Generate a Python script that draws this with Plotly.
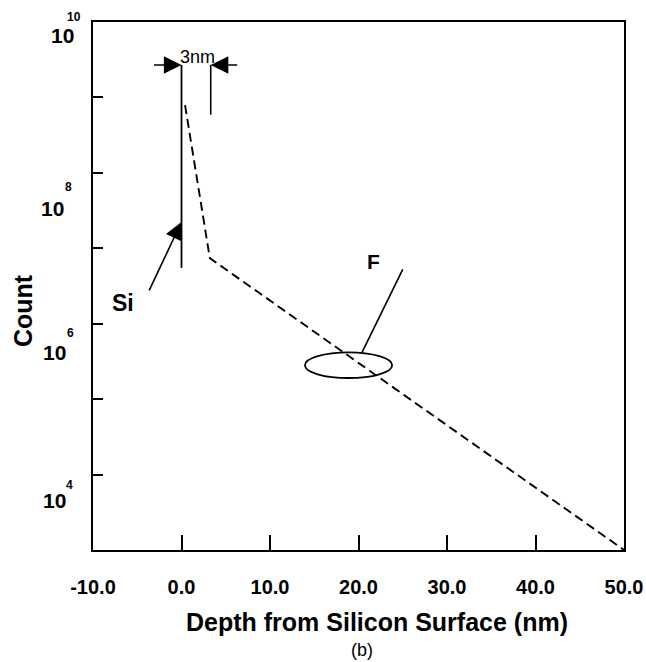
import plotly.graph_objects as go

# Si surface marker and F depth profile (depth in nm, counts)
si_depth = [0.0, 0.0]
si_count = [2.7e9, 5.5e6]

f_depth = [0.4, 3.2, 50.0]
f_count = [7.9e8, 7.4e6, 1.0e3]

# right edge of the 3 nm window
edge_depth = [3.3, 3.3]
edge_count = [2.7e9, 5.9e8]

x_ticks = [-10, 0, 10, 20, 30, 40, 50]
x_tick_text = ["-10.0", "0.0", "10.0", "20.0", "30.0", "40.0", "50.0"]
y_tick_vals = [1e4, 1e5, 1e6, 1e7, 1e8, 1e9]
y_label_exponents = ["10", "8", "6", "4"]

FONT = "Liberation Sans, Arial, sans-serif"
W, H = 646, 662
L, R, T, B = 93, 22, 22, 112


def px(x):
    return (x - L) / (W - L - R)


def py(y):
    return (H - B - y) / (H - T - B)


fig = go.Figure()

fig.add_trace(go.Scatter(x=si_depth, y=si_count, mode="lines",
                         line=dict(color="black", width=1.8), showlegend=False))
fig.add_trace(go.Scatter(x=edge_depth, y=edge_count, mode="lines",
                         line=dict(color="black", width=1.6), showlegend=False))
fig.add_trace(go.Scatter(x=f_depth, y=f_count, mode="lines",
                         line=dict(color="black", width=1.9, dash="9px,5px"),
                         showlegend=False))

# ellipse around the F profile and its leader line
fig.add_shape(type="circle", xref="x", yref="y", x0=13.95, x1=23.8,
              y0=10 ** 5.28, y1=10 ** 5.62,
              line=dict(color="black", width=1.8))
fig.add_shape(type="line", xref="x", yref="y", x0=20.4, y0=10 ** 5.62,
              x1=25.0, y1=10 ** 6.72,
              line=dict(color="black", width=1.6))

ann = []
# y axis decade labels
label_pos = {"10": ((62, 36), (74, 17)), "8": ((52, 208), (68, 187)),
             "6": ((54, 352), (70, 333)), "4": ((54, 500), (69, 485))}
for e in y_label_exponents:
    (bx, by), (sx, sy) = label_pos[e]
    ann.append(dict(x=px(bx), y=py(by), xref="paper", yref="paper", text="10",
                    showarrow=False, xanchor="center", yanchor="middle",
                    font=dict(family=FONT, size=21, color="black", weight="bold")))
    ann.append(dict(x=px(sx), y=py(sy), xref="paper", yref="paper", text=e,
                    showarrow=False, xanchor="center", yanchor="middle",
                    font=dict(family=FONT, size=12, color="black", weight="bold")))

ann.append(dict(x=px(23), y=py(311), xref="paper", yref="paper", text="Count",
                textangle=-90, showarrow=False, xanchor="center", yanchor="middle",
                font=dict(family=FONT, size=25, color="black", weight="bold")))
ann.append(dict(x=px(377), y=py(622), xref="paper", yref="paper",
                text="Depth from Silicon Surface (nm)", showarrow=False,
                xanchor="center", yanchor="middle",
                font=dict(family=FONT, size=25, color="black", weight="bold")))
ann.append(dict(x=px(362), y=py(650), xref="paper", yref="paper", text="(b)",
                showarrow=False, xanchor="center", yanchor="middle",
                font=dict(family=FONT, size=18, color="black")))

# labels inside the plot
ann.append(dict(x=-6.6, y=6.27, xref="x", yref="y", text="Si", showarrow=False,
                xanchor="center", yanchor="middle",
                font=dict(family=FONT, size=23, color="black", weight="bold")))
ann.append(dict(x=21.75, y=6.82, xref="x", yref="y", text="F", showarrow=False,
                xanchor="center", yanchor="middle",
                font=dict(family=FONT, size=21, color="black", weight="bold")))
ann.append(dict(x=1.86, y=9.53, xref="x", yref="y", text="3nm", showarrow=False,
                xanchor="center", yanchor="middle",
                font=dict(family=FONT, size=18, color="black")))

# arrows
arrow = dict(xref="x", yref="y", text="", showarrow=True, arrowhead=2,
             arrowsize=2.2, arrowwidth=1.6, arrowcolor="black", standoff=0)
ann.append(dict(arrow, x=0, y=7.35, ax=-33, ay=70))
ann.append(dict(arrow, x=0, y=9.43, ax=-29, ay=0))
ann.append(dict(arrow, x=3.3, y=9.43, ax=28, ay=0))

fig.update_layout(
    width=W, height=H,
    margin=dict(l=L, r=R, t=T, b=B, autoexpand=False),
    paper_bgcolor="white", plot_bgcolor="white",
    showlegend=False,
    annotations=ann,
    xaxis=dict(range=[-10, 50], tickvals=x_ticks, ticktext=x_tick_text,
               ticks="inside", ticklen=15, tickwidth=1.5, tickcolor="black",
               showline=True, linecolor="black", linewidth=2, mirror=True,
               showgrid=False, zeroline=False, ticklabelstandoff=18,
               automargin=False,
               tickfont=dict(family=FONT, size=20, color="black", weight="bold")),
    yaxis=dict(type="log", range=[3, 10], tickvals=y_tick_vals,
               showticklabels=False, ticks="inside", ticklen=10, tickwidth=1.5,
               tickcolor="black", showline=True, linecolor="black", linewidth=2,
               mirror=True, showgrid=False, zeroline=False, automargin=False),
)

fig.write_html("out.html")
